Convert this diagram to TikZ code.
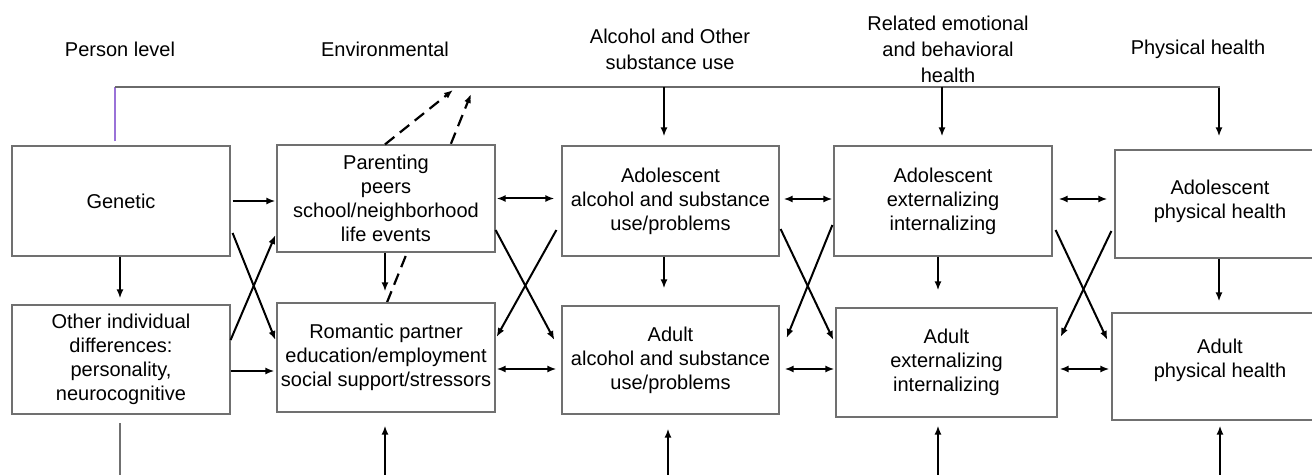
\documentclass[tikz,border=0pt]{standalone}
\usepackage{fontspec}
\setmainfont{Liberation Sans}
\usetikzlibrary{arrows.meta}
\usetikzlibrary{backgrounds}

\definecolor{boxline}{HTML}{707070}
\definecolor{topline}{HTML}{6A6A6A}
\definecolor{violetline}{HTML}{9A72D8}

\tikzset{
  box/.style={rectangle, draw=boxline, line width=0.6pt, fill=white, align=center, inner sep=1pt, font=\fontsize{10pt}{12pt}\selectfont},
  head/.style={align=center, font=\fontsize{10pt}{13pt}\selectfont},
  arr/.style={-{Latex[length=4.5pt,width=3.5pt]}, line width=1pt},
  biarr/.style={{Latex[length=4.5pt,width=3.5pt]}-{Latex[length=4.5pt,width=3.5pt]}, line width=1pt},
  dasharr/.style={-{Latex[length=4.5pt,width=3.5pt]}, line width=1.1pt, dash pattern=on 6pt off 3.5pt},
  plainline/.style={line width=0.6pt, draw=boxline}
}

\begin{document}
\begin{tikzpicture}[x=0.5pt, y=-0.5pt]
        \clip (0,0) rectangle (1312,475);

        \node[head] (hperson) at (120,49) {Person level};
        \node[head] (henv) at (385,49) {Environmental};
        \node[head] (halc) at (670,49) {Alcohol and Other\\substance use};
        \node[head] (hemo) at (948,49) {Related emotional\\and behavioral\\health};
        \node[head] (hphys) at (1198,49) {Physical health};

        \node[box, minimum width=109pt, minimum height=55pt] (genetic) at (121,201) {Genetic};
        \node[box, minimum width=109pt, minimum height=54.5pt] (other) at (121,359.5) {Other individual\\differences:\\personality,\\neurocognitive};
        \node[box, minimum width=109pt, minimum height=53.5pt] (parenting) at (386,198.5) {Parenting\\peers\\school/neighborhood\\life events};
        \node[box, minimum width=109pt, minimum height=54.5pt] (romantic) at (386,357.5) {Romantic partner\\education/employment\\social support/stressors};
        \node[box, minimum width=108.5pt, minimum height=55pt] (adolalc) at (670.5,201) {Adolescent\\alcohol and substance\\use/problems};
        \node[box, minimum width=108.5pt, minimum height=54pt] (adultalc) at (670.5,360) {Adult\\alcohol and substance\\use/problems};
        \node[box, minimum width=109pt, minimum height=55pt] (adolext) at (943,201) {Adolescent\\externalizing\\internalizing};
        \node[box, minimum width=110.5pt, minimum height=54.5pt] (adultext) at (946.5,362.5) {Adult\\externalizing\\internalizing};
        \node[box, minimum width=105pt, minimum height=54pt] (adolphys) at (1220,204) {Adolescent\\physical health\\[-7pt]};
        \node[box, minimum width=108pt, minimum height=53.5pt] (adultphys) at (1220,366.5) {Adult\\physical health\\[-4pt]};

        \coordinate (topL) at (115,87);
        \coordinate (topR) at (1219,88);
        \coordinate (talc) at (664,87);
        \coordinate (temo) at (942,87);
        \coordinate (dashA) at (453,90);
        \coordinate (dashB) at (471,94);

        \draw[line width=0.6pt, violetline] ([xshift=-3pt,yshift=2pt]genetic.north) -- (topL);
        \draw[line width=0.9pt, topline] (topL) -- (topL -| topR) -- (topR);
        \draw[arr, shorten >=4.5pt] (talc) -- (talc |- adolalc.north);
        \draw[arr, shorten >=4.5pt] (temo) -- (temo |- adolext.north);
        \draw[arr, shorten >=6.5pt] (topR) -- (topR |- adolphys.north);

        \draw[dasharr] ([xshift=-0.5pt]parenting.north) -- (dashA);
        \begin{pgfonlayer}{background}
          \draw[dasharr] ([xshift=0.5pt]romantic.north) -- (dashB);
        \end{pgfonlayer}

        \draw[arr, shorten <=1pt, shorten >=0.5pt] (genetic.east) -- (genetic.east -| parenting.west);
        \draw[arr, shorten >=1pt] ([yshift=-5.75pt]other.east) -- ([yshift=-5.75pt]other.east -| romantic.west);
        \draw[biarr, shorten <=0.5pt, shorten >=3.5pt] (parenting.east) -- (parenting.east -| adolalc.west);
        \draw[biarr, shorten <=0.5pt, shorten >=2.5pt] ([yshift=-5.75pt]romantic.east) -- ([yshift=-5.75pt]romantic.east -| adultalc.west);
        \draw[biarr, shorten <=2pt, shorten >=0.5pt] ([yshift=1pt]adolalc.east) -- ([yshift=1pt]adolalc.east -| adolext.west);
        \draw[biarr, shorten <=2.5pt, shorten >=0.5pt] ([yshift=-4.5pt]adultalc.east) -- ([yshift=-4.5pt]adultalc.east -| adultext.west);
        \draw[biarr, shorten <=3pt, shorten >=3.5pt] ([yshift=1pt]adolext.east) -- ([yshift=1pt]adolext.east -| adolphys.west);
        \draw[biarr, shorten <=1pt, shorten >=1pt] ([yshift=-3.25pt]adultext.east) -- ([yshift=-3.25pt]adultext.east -| adultphys.west);

        \draw[arr, shorten >=3pt] ([xshift=-0.5pt]genetic.south) -- ([xshift=-0.5pt]genetic.south |- other.north);
        \draw[arr, shorten >=5.5pt] ([xshift=-0.5pt]parenting.south) -- ([xshift=-0.5pt]parenting.south |- romantic.north);
        \draw[arr, shorten >=8.5pt] ([xshift=-3.25pt]adolalc.south) -- ([xshift=-3.25pt]adolalc.south |- adultalc.north);
        \draw[arr, shorten >=8.5pt] ([xshift=-2.5pt]adolext.south) -- ([xshift=-2.5pt]adolext.south |- adultext.north);
        \draw[arr, shorten >=5.5pt] ([xshift=-0.5pt]adolphys.south) -- ([xshift=-0.5pt]adolphys.south |- adultphys.north);

        \coordinate (bother) at (120,477);
        \coordinate (brom) at (385,477);
        \coordinate (balc) at (668,477);
        \coordinate (bext) at (938,477);
        \coordinate (bphys) at (1220,477);
        \draw[plainline, shorten >=4pt] (bother) -- (bother |- other.south);
        \draw[arr, shorten >=6.5pt] (brom) -- (brom |- romantic.south);
        \draw[arr, shorten >=7pt] (balc) -- (balc |- adultalc.south);
        \draw[arr, shorten >=4pt] (bext) -- (bext |- adultext.south);
        \draw[arr, shorten >=2.5pt] (bphys) -- (bphys |- adultphys.south);

        \draw[arr] ([xshift=1pt,yshift=-16pt]genetic.east) -- ([xshift=-0.5pt,yshift=8.75pt]romantic.west);
        \draw[arr] ([yshift=9.75pt]other.east) -- ([xshift=-0.5pt,yshift=-18.25pt]parenting.west);
        \draw[arr] ([yshift=-15.75pt]parenting.east) -- ([xshift=-3.5pt,yshift=10pt]adultalc.west);
        \draw[arr] ([xshift=-2.5pt,yshift=-14.5pt]adolalc.west) -- ([xshift=0.5pt,yshift=10.25pt]romantic.east);
        \draw[arr] ([xshift=0.5pt,yshift=-14pt]adolalc.east) -- ([xshift=-1pt,yshift=11.25pt]adultext.west);
        \draw[arr] ([xshift=-0.5pt,yshift=-12pt]adolext.west) -- ([xshift=3.5pt,yshift=11pt]adultalc.east);
        \draw[arr] ([xshift=1.5pt,yshift=-14.5pt]adolext.east) -- ([xshift=-2pt,yshift=13.25pt]adultphys.west);
        \draw[arr] ([xshift=-1.5pt,yshift=-13.5pt]adolphys.west) -- ([xshift=1.5pt,yshift=12.75pt]adultext.east);
    \end{tikzpicture}
\end{document}
